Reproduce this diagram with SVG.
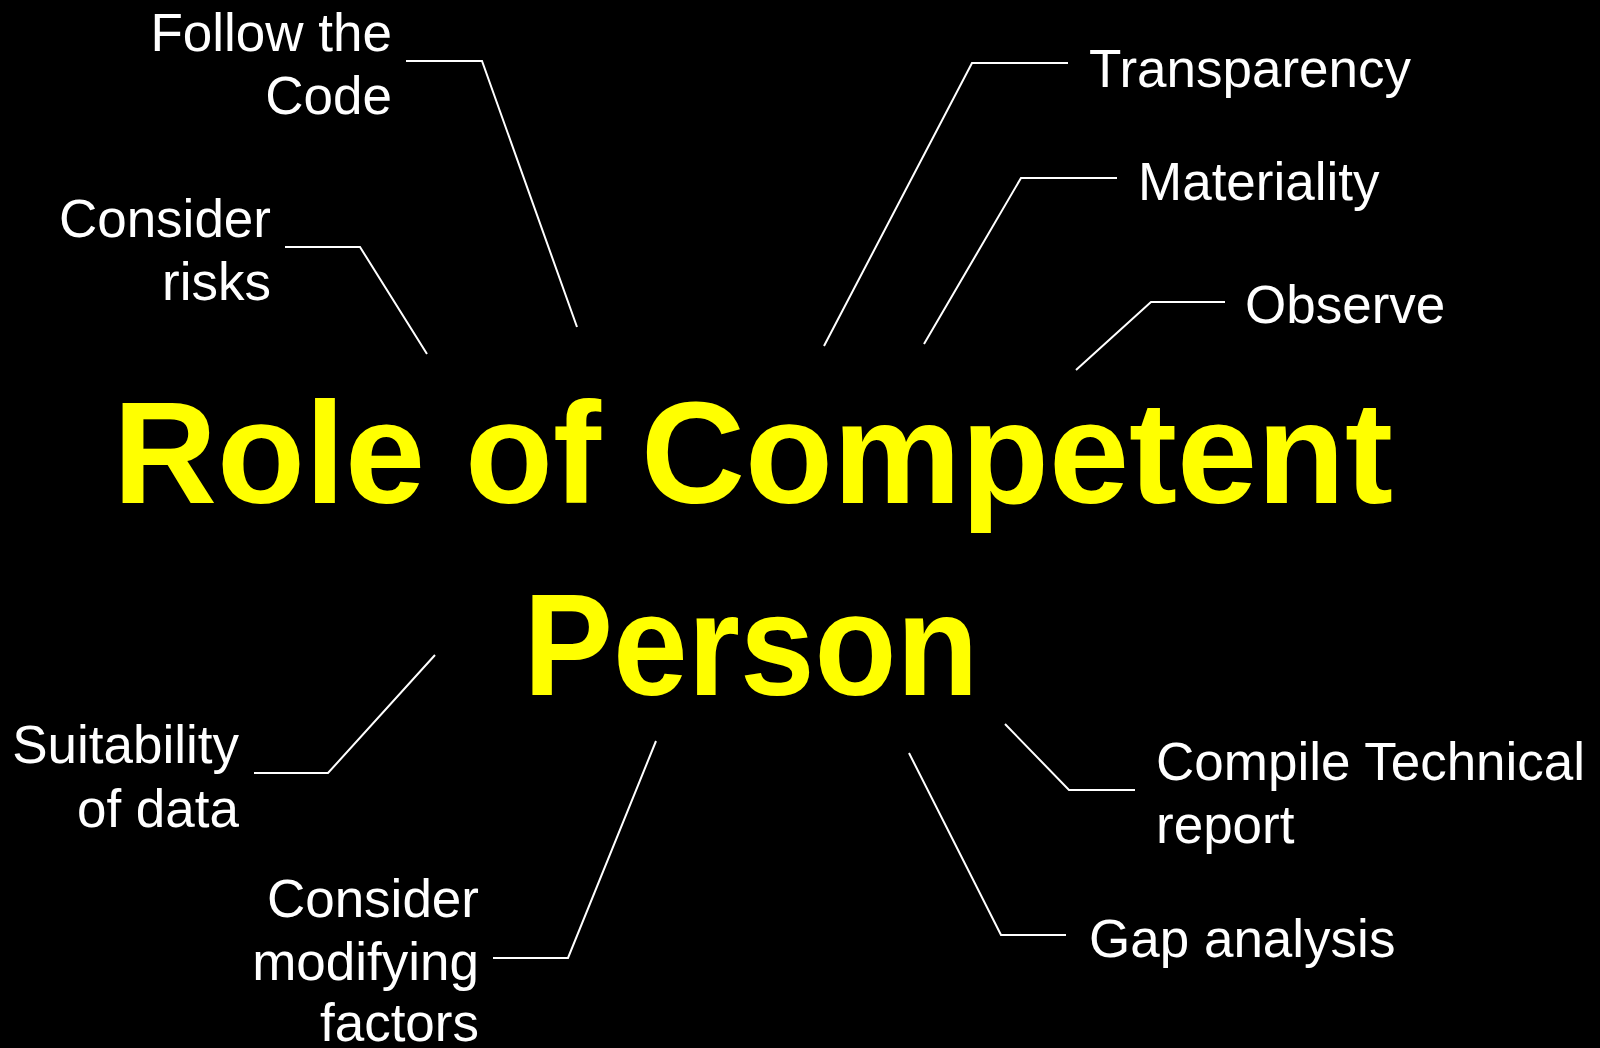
<svg xmlns="http://www.w3.org/2000/svg" width="1600" height="1048" viewBox="0 0 1600 1048">
<style>
.lbl{font-family:"Liberation Sans",Arial,sans-serif;font-size:53px;fill:#ffffff}
.r{text-anchor:end}
.title{font-family:"Liberation Sans",Arial,sans-serif;font-weight:bold;font-size:144px;fill:#ffff00;text-anchor:middle}
.con{fill:none;stroke:#ffffff;stroke-width:2}
</style>
<rect width="1600" height="1048" fill="#000000"/>
<g id="connectors">
<polyline class="con" points="406,61 482,61 577,327"/>
<polyline class="con" points="285,247 360,247 427,354"/>
<polyline class="con" points="1068,63 972,63 824,346"/>
<polyline class="con" points="1117,178 1021,178 924,344"/>
<polyline class="con" points="1225,302 1151,302 1076,370"/>
<polyline class="con" points="254,773 328,773 435,655"/>
<polyline class="con" points="493,958 568,958 656,741"/>
<polyline class="con" points="1005,724 1069,790 1135,790"/>
<polyline class="con" points="909,753 1001,935 1066,935"/>
</g>
<g id="center"><text class="title" x="753" y="503">Role of Competent</text><text class="title" x="751" y="695" textLength="455" lengthAdjust="spacingAndGlyphs">Person</text></g>
<g id="follow"><text class="lbl r" x="392" y="51">Follow the</text><text class="lbl r" x="392" y="114">Code</text></g>
<g id="risks"><text class="lbl r" x="271" y="237">Consider</text><text class="lbl r" x="271" y="300">risks</text></g>
<g id="transparency"><text class="lbl" x="1089" y="87">Transparency</text></g>
<g id="materiality"><text class="lbl" x="1138" y="200">Materiality</text></g>
<g id="observe"><text class="lbl" x="1245" y="323">Observe</text></g>
<g id="suitability"><text class="lbl r" x="239" y="763">Suitability</text><text class="lbl r" x="239" y="827">of data</text></g>
<g id="modifying"><text class="lbl r" x="479" y="917">Consider</text><text class="lbl r" x="479" y="980">modifying</text><text class="lbl r" x="479" y="1041">factors</text></g>
<g id="compile"><text class="lbl" x="1156" y="780">Compile Technical</text><text class="lbl" x="1156" y="843">report</text></g>
<g id="gap"><text class="lbl" x="1089" y="957">Gap analysis</text></g>
</svg>
